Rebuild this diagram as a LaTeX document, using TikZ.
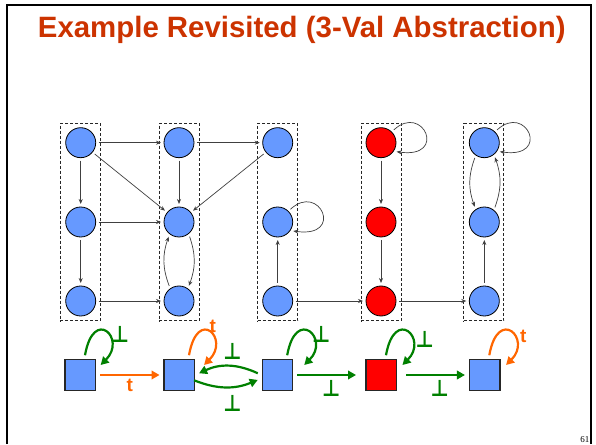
\documentclass[tikz,border=0pt]{standalone}
\usepackage{fontspec}
\setmainfont{Liberation Sans}
\newfontfamily\symf{DejaVu Sans}
\newfontfamily\numf{Liberation Serif}
\usetikzlibrary{arrows.meta,calc}
\definecolor{nodeblue}{RGB}{102,153,255}
\definecolor{titlered}{RGB}{204,51,0}
\definecolor{ggreen}{RGB}{0,128,0}
\definecolor{orng}{RGB}{255,102,0}
\newcommand{\botsym}{\scalebox{1.05}[1.2]{⊥}}
\begin{document}
\begin{tikzpicture}[x=1pt,y=1pt,
 state/.style={circle,draw=black,line width=0.8pt,fill=nodeblue,minimum size=30pt,inner sep=0pt,outer sep=3pt},
 redstate/.style={state,fill=red},
 absq/.style={rectangle,draw=black!85,line width=1.3pt,fill=nodeblue,minimum size=30.5pt,inner sep=0pt,outer sep=4.5pt},
 redsq/.style={absq,fill=red},
 grp/.style={rectangle,draw=black!85,dash pattern=on 3pt off 2pt,line width=0.9pt,minimum width=40pt,minimum height=197.7pt,inner sep=0pt},
 tedge/.style={draw=black!75,line width=0.7pt,-{Stealth[length=5pt,width=4pt]}},
 tloop/.style={tedge,out=43,in=-8,out distance=40pt,in distance=52pt},
 gedge/.style={draw=ggreen,line width=2.2pt,-{Triangle[length=8pt,width=8.5pt]}},
 oedge/.style={gedge,draw=orng},
 bloop/.style={out=80,in=45,out distance=50pt,in distance=37pt},
 lab/.style={font=\symf\bfseries\fontsize{19}{19}\selectfont,text=ggreen,inner sep=0pt},
 tlab/.style={font=\bfseries\fontsize{19}{19}\selectfont,text=orng,inner sep=0pt},
]
\useasboundingbox (0,0) rectangle (596,444);
\fill[white] (0,0) rectangle (596,444);
\draw[line width=2pt] (7,0) -- (7,439) -- (591,439) -- (591,0);

\node[anchor=base,font=\bfseries\fontsize{29.4}{35}\selectfont,text=titlered,inner sep=0pt] (title) at (301.8,406) {Example Revisited (3-Val Abstraction)};
\node[anchor=base east,font=\numf\fontsize{9}{9}\selectfont,inner sep=0pt] (pg) at (589.5,1.5) {61};

% groups
\node[grp] (g1) at (80.4,221.9) {};
\node[grp] (g2) at (179.2,221.9) {};
\node[grp] (g3) at (277.5,221.9) {};
\node[grp] (g4) at (381.3,221.9) {};
\node[grp] (g5) at (483.8,221.9) {};

% states
\node[state] (a1) at (80.7,301.3) {};
\node[state] (a2) at (80.7,222) {};
\node[state] (a3) at (80.7,143) {};
\node[state] (b1) at (179,301.3) {};
\node[state] (b2) at (179,222) {};
\node[state] (b3) at (179,143) {};
\node[state] (c1) at (277.7,301.3) {};
\node[state] (c2) at (277.7,222) {};
\node[state] (c3) at (277.7,143) {};
\node[redstate] (d1) at (381,301.3) {};
\node[redstate] (d2) at (381,222) {};
\node[redstate] (d3) at (381,143) {};
\node[state] (e1) at (484.3,301.3) {};
\node[state] (e2) at (484.3,222) {};
\node[state] (e3) at (484.3,143) {};

% concrete edges
\draw[tedge] (a1) -- (b1);
\draw[tedge] (b1) -- (c1);
\draw[tedge] (a1) -- (b2);
\draw[tedge] (c1) -- (b2);
\draw[tedge] (a1) -- (a2);
\draw[tedge] (a2) -- (a3);
\draw[tedge] (a2) -- (b2);
\draw[tedge] (a3) -- (b3);
\draw[tedge] (b1) -- (b2);
\draw[tedge] (b2.306) to[bend left=20] (b3.57);
\draw[tedge] (b3.123) to[bend left=20] (b2.235);
\draw[tloop] (c2.45) to (c2.-30);
\draw[tedge] (c3) -- (c2);
\draw[tedge] (c3) -- (d3);
\draw[tedge] (d3) -- (e3);
\draw[tloop] (d1.45) to (d1.-30);
\draw[tedge] (d1) -- (d2);
\draw[tedge] (d2) -- (d3);
\draw[tloop] (e1.45) to (e1.-30);
\draw[tedge] (e1.238) to[bend right=20] (e2.122);
\draw[tedge] (e2.54) to[bend right=20] (e1.306);
\draw[tedge] (e3) -- (e2);

% abstract states
\node[absq] (s1) at (80.3,69) {};
\node[absq] (s2) at (179.3,69) {};
\node[absq] (s3) at (277.5,69) {};
\node[redsq] (s4) at (381.3,69) {};
\node[absq] (s5) at (484.7,69) {};

% abstract edges
\draw[gedge] ($(s1.north)+(4.7,0)$) to[bloop] ($(s1.east)+(0.6,10)$);
\draw[oedge] (s1) -- (s2);
\draw[oedge] ($(s2.north)+(9.7,0)$) to[bloop] ($(s2.east)+(5,10)$);
\draw[gedge] (s3.175) to[bend right=25] (s2.5);
\draw[gedge] ($(s2.east)+(-5,-5.3)$) to[bend right=22] (s3.194);
\draw[gedge] ($(s3.north)+(9.7,0)$) to[bloop] ($(s3.east)+(7,10)$);
\draw[gedge,shorten >=5.5pt] (s3) -- (s4);
\draw[gedge] ($(s4.north)+(4.7,0)$) to[bloop] ($(s4.east)+(1.4,10)$);
\draw[gedge,shorten <=5pt] (s4) -- (s5);
\draw[oedge] ($(s5.north)+(4.6,0)$) to[bloop] ($(s5.east)+(1.6,10)$);

% labels
\node[lab] (l1) at (120,109.5) {\botsym};
\node[tlab] (l2) at (129.7,59) {t};
\node[tlab] (l3) at (212.7,117.3) {t};
\node[lab] (l4) at (232.5,92.3) {\botsym};
\node[lab] (l5) at (232.5,40.7) {\botsym};
\node[lab] (l6) at (321.3,109.8) {\botsym};
\node[lab] (l7) at (331.3,55.3) {\botsym};
\node[lab] (l8) at (424.7,104.8) {\botsym};
\node[lab] (l9) at (439.7,55.3) {\botsym};
\node[tlab] (l10) at (523.3,107.3) {t};
\end{tikzpicture}
\end{document}
